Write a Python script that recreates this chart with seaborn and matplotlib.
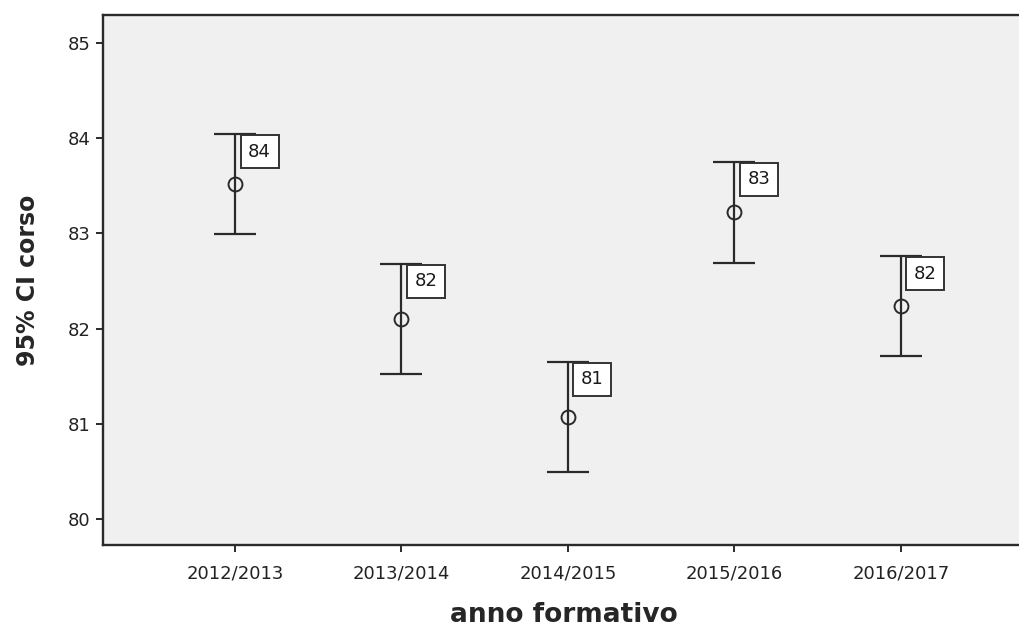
import numpy as np
import pandas as pd
import matplotlib
matplotlib.use('Agg')
import matplotlib.pyplot as plt
import seaborn as sns

# values
years = ['2012/2013', '2013/2014', '2014/2015', '2015/2016', '2016/2017']
means = [83.52, 82.10, 81.07, 83.22, 82.24]
ci_low = [82.99, 81.52, 80.49, 82.69, 81.71]
ci_high = [84.04, 82.68, 81.65, 83.75, 82.76]
labels = ['84', '82', '81', '83', '82']

df = pd.DataFrame({'anno formativo': years, 'corso': means})

sns.set_style('white')
plt.rcParams['font.family'] = ['DejaVu Sans']

ink = '#2a2a2a'

fig = plt.figure(figsize=(10.19, 6.32), dpi=100)
ax = fig.add_axes([0.101, 0.1377, 0.9055, 0.8386])
ax.set_facecolor('#f0f0f0')

sns.pointplot(data=df, x='anno formativo', y='corso', errorbar=None,
              linestyle='none', marker='o', color=ink,
              markerfacecolor='none', markeredgecolor=ink,
              markersize=10, markeredgewidth=1.4, ax=ax, zorder=3)

pos = np.arange(len(years))
yerr = [np.array(means) - np.array(ci_low), np.array(ci_high) - np.array(means)]
ax.errorbar(pos, means, yerr=yerr, fmt='none', ecolor=ink,
            elinewidth=1.6, capsize=15, capthick=1.6, zorder=2)

# value boxes hanging from the upper CI end
for i, txt in enumerate(labels):
    ax.annotate(txt, xy=(pos[i], ci_high[i]), xytext=(9.5, -6),
                textcoords='offset points', ha='left', va='top',
                fontsize=13, color='#1a1a1a', zorder=4,
                bbox=dict(boxstyle='square,pad=0.42', fc='white',
                          ec='#333333', lw=1.4))

ax.set_xlim(-0.793, 4.75)
ax.set_ylim(79.727, 85.294)
ax.set_yticks([80, 81, 82, 83, 84, 85])

ax.set_xlabel('anno formativo', fontsize=19, fontweight='bold', labelpad=14)
ax.set_ylabel('95% CI corso', fontsize=17, fontweight='bold', labelpad=20)

ax.tick_params(axis='both', direction='out', length=5, width=1.4,
               color=ink, labelsize=13, labelcolor='#222222',
               left=True, bottom=True)
ax.tick_params(axis='x', pad=9)
ax.tick_params(axis='y', pad=4)

for side in ['left', 'bottom', 'top']:
    ax.spines[side].set_color(ink)
    ax.spines[side].set_linewidth(1.7)
ax.spines['right'].set_visible(False)

fig.savefig('out.png', dpi=100, facecolor='white')
